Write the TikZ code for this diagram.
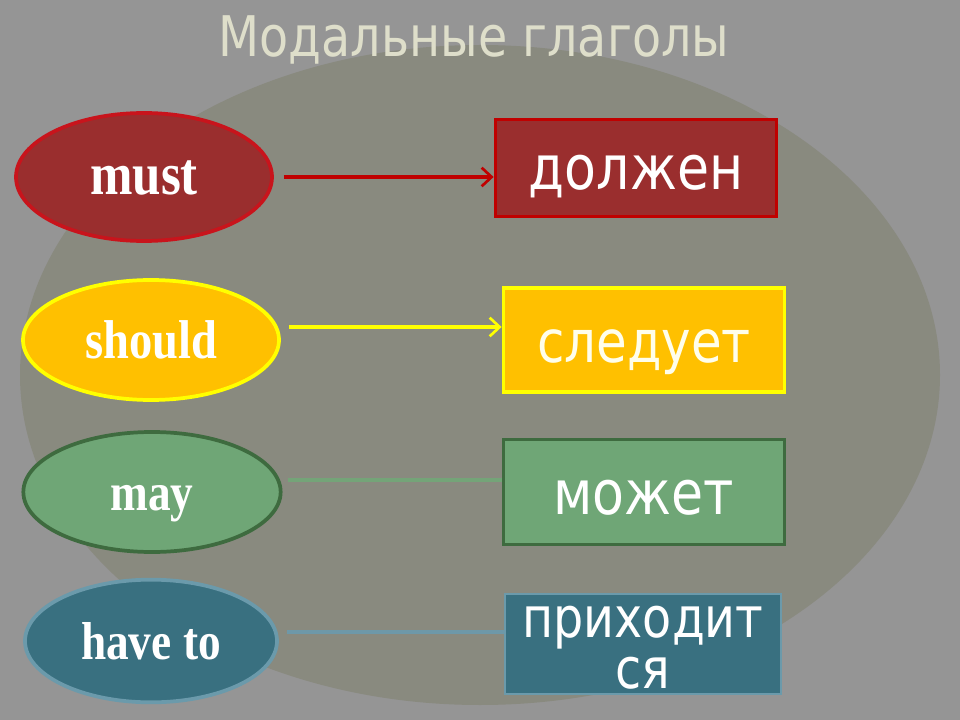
\documentclass[tikz,border=0pt]{standalone}
\usepackage{fontspec}
\setmainfont{DejaVu Sans}
\newfontfamily\boxfont[FakeStretch=0.85]{DejaVu Sans}
\newfontfamily\ellfont[FakeStretch=0.85]{Liberation Serif}
\usetikzlibrary{shapes.geometric,arrows.meta}
\definecolor{bgc}{HTML}{959595}
\definecolor{blobc}{HTML}{898A7F}
\definecolor{titlec}{HTML}{DEDECA}
\definecolor{redfill}{HTML}{9A2E2E}
\definecolor{redline}{HTML}{C8141C}
\definecolor{redarrow}{HTML}{C00000}
\definecolor{yelfill}{HTML}{FFC000}
\definecolor{yelline}{HTML}{FFFF00}
\definecolor{grnfill}{HTML}{6FA676}
\definecolor{grnline}{HTML}{3E6B3F}
\definecolor{grnconn}{HTML}{74A478}
\definecolor{tealfill}{HTML}{397080}
\definecolor{tealline}{HTML}{6B9AAB}
\definecolor{tealconn}{HTML}{6E98A8}
\tikzset{
  verb/.style={ellipse, inner sep=0pt, line width=2.8pt, text=white,
    text height=27pt, text depth=0pt},
  trans/.style={rectangle, inner sep=0pt, line width=2.6pt, text=white,
    text height=33pt, text depth=0pt},
  arr/.style={line width=2.3pt, -{Straight Barb[length=7.5pt,width=14pt,line width=2pt]}},
  conn/.style={line width=3.6pt}
}
\begin{document}
\begin{tikzpicture}[x=0.75pt,y=-0.75pt]
\useasboundingbox (0,0) rectangle (960,720);
\fill[bgc] (0,0) rectangle (960,720);
\fill[blobc] (480,375) ellipse [x radius=460, y radius=330];

\node[text=titlec, font=\boxfont\fontsize{42}{48}\selectfont] (title) at (474,40) {Модальные глаголы};

% ellipses
\node[verb, draw=redline, fill=redfill, minimum width=192pt, minimum height=96pt,
  font=\ellfont\bfseries\fontsize{45}{50}\selectfont] (must) at (144,177) {must};
\node[verb, draw=yelline, fill=yelfill, minimum width=192pt, minimum height=90pt,
  font=\ellfont\bfseries\fontsize{41}{46}\selectfont] (should) at (151,340) {should};
\node[verb, draw=grnline, fill=grnfill, minimum width=193pt, minimum height=90pt,
  font=\ellfont\bfseries\fontsize{40}{45}\selectfont] (may) at (152,492) {may};
\node[verb, draw=tealline, fill=tealfill, minimum width=189pt, minimum height=92pt,
  font=\ellfont\bfseries\fontsize{40}{45}\selectfont] (haveto) at (151,641) {have to};

% boxes
\node[trans, draw=redarrow, fill=redfill, minimum width=211pt, minimum height=73pt,
  font=\boxfont\fontsize{46}{50}\selectfont] (dolzhen) at (636,168) {должен};
\node[trans, draw=yelline, fill=yelfill, minimum width=211pt, minimum height=78pt,
  text=white!92!yellow, font=\boxfont\fontsize{44}{50}\selectfont] (sledu) at (644,340) {следует};
\node[trans, draw=grnline, fill=grnfill, minimum width=211pt, minimum height=79pt,
  font=\boxfont\fontsize{46}{50}\selectfont] (mozhet) at (644,492) {может};
\node[trans, draw=tealline, line width=1.8pt, fill=tealfill, minimum width=207pt, minimum height=75pt] (prikh) at (643,644) {};
\node[text=white, align=center, inner sep=0pt, font=\boxfont\fontsize{42}{38}\selectfont]
  (prikhtext) at ([yshift=-3pt]prikh.center) {приходит\\ся};

% connectors
\path (must.east) ++(10,0) coordinate (m1);
\draw[arr, redarrow] (m1) -- (m1 -| dolzhen.west);
\path (should.east) ++(8,-13) coordinate (s1);
\draw[arr, yelline] (s1) -- (s1 -| sledu.west);
\path (may.east) ++(5,-12) coordinate (y1);
\draw[conn, grnconn] (y1) -- (y1 -| mozhet.west);
\path (haveto.east) ++(8,-9) coordinate (h1);
\draw[conn, tealconn] (h1) -- (h1 -| prikh.west);
\end{tikzpicture}
\end{document}
